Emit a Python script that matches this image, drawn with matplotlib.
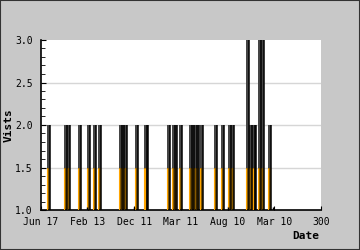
import numpy as np
import matplotlib.pyplot as plt

# spike positions (day index) and visit counts
spike_x = np.array([9.6, 27.9, 31.1, 42.9, 52.5, 58.9, 64.3, 86.8, 88.9, 92.1,
                    103.9, 113.6, 114.6, 138.2, 143.6, 145.7, 151.1, 161.8, 163.9,
                    167.1, 169.3, 173.6, 188.6, 196.1, 203.6, 206.8, 222.9, 226.1,
                    229.3, 230.4, 235.7, 238.9, 246.4])
spike_y = np.array([2, 2, 2, 2, 2, 2, 2, 2, 2, 2,
                    2, 2, 2, 2, 2, 2, 2, 2, 2,
                    2, 2, 2, 2, 2, 2, 2, 3, 2,
                    2, 2, 3, 3, 2])
# tiny blips near the baseline
blip_x = np.array([49.3, 99.6, 200.4, 248.6])
blip_y = np.array([1.04, 1.04, 1.03, 1.04])

xtick_pos = [0, 50, 100, 150, 200, 250, 300]
xtick_labels = ['Jun 17', 'Feb 13', 'Dec 11', 'Mar 11', 'Aug 10', 'Mar 10', '300']

plt.rcParams['font.family'] = 'DejaVu Sans Mono'

fig = plt.figure(figsize=(3.6, 2.5), dpi=100, facecolor='#c8c8c8')
ax = fig.add_axes([41/360, 40/250, 280/360, 170/250])
ax.set_facecolor('white')

ax.set_xlim(0, 300)
ax.set_ylim(1, 3)

for g in [1.5, 2.0, 2.5]:
    ax.axhline(g, color='#d6d6d6', lw=1, zorder=0)

low = np.minimum(spike_y, 1.5)
ax.bar(spike_x - 1.6, low - 1, bottom=1, width=3.0, color='#7a5200', zorder=2)
ax.bar(spike_x - 1.6, spike_y - low, bottom=low, width=3.0, color='#454545', zorder=2)
ax.vlines(spike_x - 2.8, 1, low, color='#ffa500', lw=0.8, zorder=3)
ax.vlines(spike_x, 1, spike_y, color='black', lw=1.1, zorder=4)
ax.vlines(blip_x, 1, blip_y, color='black', lw=1, zorder=4)

for s in ['top', 'right']:
    ax.spines[s].set_visible(False)
ax.spines['left'].set_linewidth(1.2)
ax.spines['bottom'].set_linewidth(1.2)

ax.set_yticks([1.0, 1.5, 2.0, 2.5, 3.0])
ax.set_yticklabels(['1.0', '1.5', '2.0', '2.5', '3.0'])
ax.set_yticks(np.arange(1.0, 3.01, 0.1), minor=True)
ax.set_xticks(xtick_pos)
ax.set_xticklabels(xtick_labels)
ax.tick_params(axis='both', which='both', direction='in', labelsize=7, color='black')
ax.tick_params(axis='y', which='major', length=3.5, pad=6)
ax.tick_params(axis='y', which='minor', length=3)
ax.tick_params(axis='x', which='major', length=3, pad=5)

fig.text(9/360, 1 - 125/250, 'Vists', rotation=90, ha='center', va='center',
         fontsize=8, fontweight='bold')
fig.text(319/360, 1 - 236/250, 'Date', ha='right', va='center',
         fontsize=8, fontweight='bold')

fig.patches.append(plt.Rectangle((0, 0), 1, 1, transform=fig.transFigure,
                                 fill=False, edgecolor='#333333', lw=1.5))

fig.savefig('out.png', dpi=100, facecolor=fig.get_facecolor())
